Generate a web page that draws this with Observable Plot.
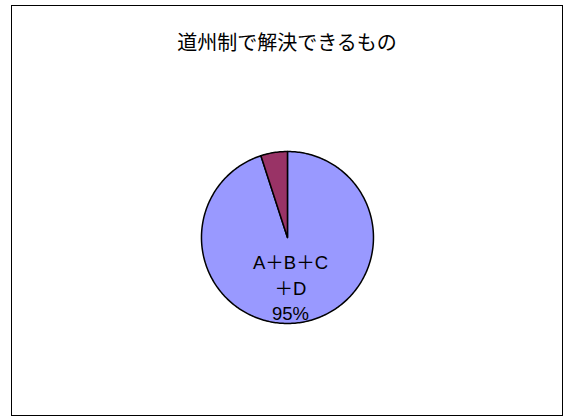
<!DOCTYPE html>
<html><head><meta charset="utf-8">
<script src="https://cdn.jsdelivr.net/npm/d3@7"></script>
<script src="https://cdn.jsdelivr.net/npm/@observablehq/plot@0.6"></script>
<style>body{margin:0;background:#fff}</style>
</head><body><div id="chart"></div>
<script>
const title = "道州制で解決できるもの";
const categories = ["A＋B＋C＋D", "その他"];
const values = [95, 5];
const labels = ["A＋B＋C\n＋D\n95%", ""];
const colors = ["#9999FF", "#993366"];

const total = d3.sum(values);
let acc = 0;
const slices = categories.map((c, i) => {
  const a0 = acc / total * 2 * Math.PI; acc += values[i];
  const a1 = acc / total * 2 * Math.PI;
  return {c, a0, a1, i};
});
const pts = [];
for (const s of slices) {
  pts.push({c: s.c, x: 0, y: 0});
  const n = Math.max(2, Math.ceil((s.a1 - s.a0) / (Math.PI / 180)));
  for (let k = 0; k <= n; k++) {
    const a = s.a0 + (s.a1 - s.a0) * k / n;
    pts.push({c: s.c, x: Math.sin(a), y: Math.cos(a)});
  }
  pts.push({c: s.c, x: 0, y: 0});
}
const labelData = slices.filter(s => labels[s.i]).map(s => {
  const m = (s.a0 + s.a1) / 2;
  return {x: Math.sin(m) * 0.6, y: Math.cos(m) * 0.6, text: labels[s.i]};
});

const chart = Plot.plot({
  width: 563, height: 416,
  marginLeft: 11, marginTop: 5, marginRight: 1, marginBottom: 1,
  x: {domain: [-3.209, 3.198], axis: null},
  y: {domain: [-2.07, 2.698], axis: null},
  color: {domain: categories, range: colors},
  style: {fontFamily: "'Noto Sans CJK JP', sans-serif", background: "#fff"},
  marks: [
    Plot.frame({stroke: "#000"}),
    Plot.line(pts, {x: "x", y: "y", z: "c", fill: "c", stroke: "black", strokeWidth: 1.5, strokeLinejoin: "round", curve: "linear"}),
    Plot.text(labelData, {x: "x", y: "y", text: "text", dx: -5, dy: -2, fontSize: 18.5, lineHeight: 1.36, fill: "black", fontFamily: "'Liberation Sans', 'Noto Sans CJK JP', sans-serif"}),
    Plot.text([title], {frameAnchor: "top", dy: 38, lineAnchor: "middle", fontSize: 20, fill: "black"})
  ]
});
document.getElementById("chart").appendChild(chart);
</script>
</body></html>
